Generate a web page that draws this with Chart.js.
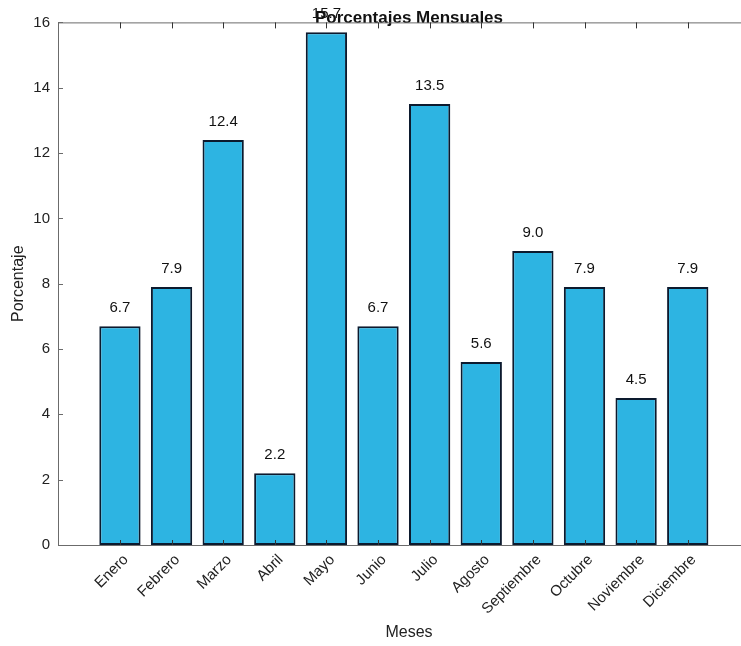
<!DOCTYPE html>
<html>
<head>
<meta charset="utf-8">
<script src="https://cdn.jsdelivr.net/npm/chart.js@4/dist/chart.umd.min.js"></script>
<style>
  html, body { margin: 0; padding: 0; background: #fff; overflow: hidden; }
  #wrap { width: 760px; height: 646px; }
</style>
</head>
<body>
<div id="wrap"><canvas id="c" width="760" height="646"></canvas></div>
<script>
// Monthly percentages
const months = ['Enero', 'Febrero', 'Marzo', 'Abril', 'Mayo', 'Junio',
                'Julio', 'Agosto', 'Septiembre', 'Octubre', 'Noviembre', 'Diciembre'];
const percentages = [6.7, 7.9, 12.4, 2.2, 15.7, 6.7, 13.5, 5.6, 9.0, 7.9, 4.5, 7.9];
const yTicks = [0, 2, 4, 6, 8, 10, 12, 14, 16];

const FONT = '"Liberation Sans", Arial, Helvetica, sans-serif';
const AXIS_COLOR = '#6b6b6b';

// Box frame with inward tick marks, plus value labels above the bars
const frameAndLabels = {
  id: 'frameAndLabels',
  afterDraw(chart) {
    const ctx = chart.ctx;
    const area = chart.chartArea;
    const xs = chart.scales.x;
    const ys = chart.scales.y;
    ctx.save();
    ctx.strokeStyle = AXIS_COLOR;
    ctx.lineWidth = 1;
    // top border
    ctx.beginPath();
    ctx.moveTo(area.left, area.top + 0.5);
    ctx.lineTo(area.right, area.top + 0.5);
    ctx.stroke();
    // ticks on bottom and top edges
    ctx.strokeStyle = '#333';
    months.forEach((m, i) => {
      const px = Math.round(xs.getPixelForValue(i)) + 0.5;
      ctx.beginPath();
      ctx.moveTo(px, area.bottom);
      ctx.lineTo(px, area.bottom - 5);
      ctx.moveTo(px, area.top);
      ctx.lineTo(px, area.top + 6);
      ctx.stroke();
    });
    // ticks on the left edge
    ctx.strokeStyle = AXIS_COLOR;
    yTicks.forEach(v => {
      const py = Math.round(ys.getPixelForValue(v)) + 0.5;
      ctx.beginPath();
      ctx.moveTo(area.left, py);
      ctx.lineTo(area.left + 5, py);
      ctx.stroke();
    });
    ctx.restore();
  },
  afterDatasetsDraw(chart) {
    const ctx = chart.ctx;
    const meta = chart.getDatasetMeta(0);
    ctx.save();
    ctx.fillStyle = '#111';
    ctx.font = '500 15px ' + FONT;
    ctx.textAlign = 'center';
    ctx.textBaseline = 'alphabetic';
    meta.data.forEach((bar, i) => {
      ctx.fillText(percentages[i].toFixed(1), bar.x, bar.y - 14);
    });
    ctx.restore();
  }
};

new Chart(document.getElementById('c'), {
  type: 'bar',
  data: {
    datasets: [{
      data: percentages.map((v, i) => ({ x: i, y: v })),
      backgroundColor: '#2db4e2',
      borderColor: '#0c1a2e',
      borderWidth: 2,
      borderSkipped: false,
      categoryPercentage: 1,
      barPercentage: 0.8
    }]
  },
  options: {
    responsive: false,
    animation: false,
    layout: { padding: { left: 0, right: 0, top: 0, bottom: 0 } },
    plugins: {
      legend: { display: false },
      tooltip: { enabled: false },
      title: {
        display: true,
        fullSize: false,
        text: 'Porcentajes Mensuales',
        color: '#111',
        font: { family: FONT, size: 17, weight: 'bold' },
        padding: { top: 8, bottom: -6 }
      }
    },
    scales: {
      x: {
        type: 'linear',
        offset: false,
        min: -1.2,
        max: 12.4,
        afterBuildTicks(scale) {
          scale.ticks = months.map((m, i) => ({ value: i }));
        },
        afterFit(scale) { scale.height = 101; },
        grid: { display: false, drawTicks: false },
        border: { display: true, color: AXIS_COLOR, width: 1 },
        ticks: {
          autoSkip: false,
          minRotation: 45,
          maxRotation: 45,
          padding: 6,
          labelOffset: 6,
          color: '#222',
          font: { family: FONT, size: 15 },
          callback: (v) => months[v]
        },
        title: {
          display: true,
          text: 'Meses',
          color: '#222',
          font: { family: FONT, size: 16 },
          padding: { top: 0, bottom: 4 }
        }
      },
      y: {
        min: 0,
        max: 16,
        afterBuildTicks(scale) {
          scale.ticks = yTicks.map(v => ({ value: v }));
        },
        afterFit(scale) { scale.width = 58; },
        grid: { display: false, drawTicks: false },
        border: { display: true, color: AXIS_COLOR, width: 1 },
        ticks: {
          padding: 8,
          color: '#222',
          font: { family: FONT, size: 15 }
        },
        title: {
          display: true,
          text: 'Porcentaje',
          color: '#222',
          font: { family: FONT, size: 16 },
          padding: { top: 9, bottom: 2 }
        }
      }
    }
  },
  plugins: [frameAndLabels]
});
</script>
</body>
</html>
